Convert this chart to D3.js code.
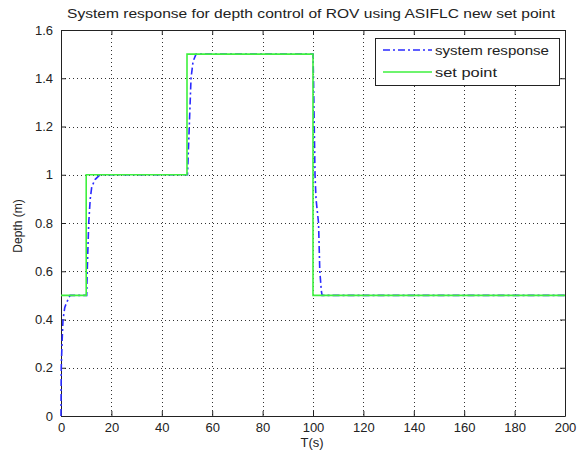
<!DOCTYPE html>
<html>
<head>
  <meta charset="utf-8">
  <script src="https://d3js.org/d3.v7.min.js"></script>
  <style>
    body { margin: 0; background: #fff; }
    text { font-family: Arial, "Liberation Sans", sans-serif; fill: #222; }
  </style>
</head>
<body>
  <svg width="577" height="461"></svg>
  <script>
    // set point (step reference)
    var setT = [0, 10, 10, 50, 50, 100, 100, 200];
    var setY = [0.5, 0.5, 1, 1, 1.5, 1.5, 0.5, 0.5];

    // system response
    var respT = [0, 0.1, 0.4, 0.8, 1.5, 2.2, 3.6, 10, 10.2, 10.4, 11, 11.6, 12.2, 13.5, 15.5,
                 50, 50.2, 50.9, 51.6, 52.4, 53.6, 100, 100.2, 100.5, 100.8, 101.2, 102.2, 102.7, 103.3, 103.6, 200];
    var respY = [0, 0.2, 0.3, 0.4, 0.45, 0.47, 0.5, 0.5, 0.5, 0.6, 0.8, 0.9, 0.95, 0.98, 1.0,
                 1.0, 1.0, 1.2, 1.4, 1.47, 1.5, 1.5, 1.4, 1.2, 1.0, 0.9, 0.8, 0.6, 0.52, 0.5, 0.5];

    var xTicks = [0, 20, 40, 60, 80, 100, 120, 140, 160, 180, 200];
    var yTicks = [0, 0.2, 0.4, 0.6, 0.8, 1, 1.2, 1.4, 1.6];

    (function () {
      var pl = 61, pr = 565, pt = 30, pb = 416;
      var svg = d3.select("svg");

      var x = d3.scaleLinear().domain([0, 200]).range([pl, pr]);
      var y = d3.scaleLinear().domain([0, 1.6]).range([pb, pt]);

      // grid
      var grid = svg.append("g").attr("stroke", "#333").attr("stroke-width", 1)
        .attr("stroke-dasharray", "1,3");
      grid.selectAll(".gx").data(xTicks.slice(1, -1)).enter().append("line")
        .attr("x1", d => Math.round(x(d)) + 0.5).attr("x2", d => Math.round(x(d)) + 0.5)
        .attr("y1", pt).attr("y2", pb);
      grid.selectAll(".gy").data(yTicks.slice(1, -1)).enter().append("line")
        .attr("y1", d => Math.round(y(d)) + 0.5).attr("y2", d => Math.round(y(d)) + 0.5)
        .attr("x1", pl).attr("x2", pr);

      // axes, ticks inside, closed box
      svg.append("g").attr("transform", "translate(0," + pb + ")")
        .call(d3.axisBottom(x).tickValues(xTicks).tickSizeInner(-5).tickSizeOuter(0).tickPadding(7));
      svg.append("g").attr("transform", "translate(0," + pt + ")")
        .call(d3.axisTop(x).tickValues(xTicks).tickSizeInner(-5).tickSizeOuter(0).tickFormat(""));
      svg.append("g").attr("transform", "translate(" + pl + ",0)")
        .call(d3.axisLeft(y).tickValues(yTicks).tickSizeInner(-5).tickSizeOuter(0).tickPadding(8)
          .tickFormat(d3.format("~g")));
      svg.append("g").attr("transform", "translate(" + pr + ",0)")
        .call(d3.axisRight(y).tickValues(yTicks).tickSizeInner(-5).tickSizeOuter(0).tickFormat(""));
      svg.selectAll(".domain").attr("stroke", "#222");
      svg.selectAll(".tick line").attr("stroke", "#222");
      svg.selectAll(".tick text").attr("fill", "#222").attr("font-size", 13)
        .attr("font-family", "Arial, 'Liberation Sans', sans-serif");

      var line = d3.line().x(d => x(d[0])).y(d => y(d[1]));

      // response first, set point drawn over it
      svg.append("path")
        .datum(respT.map((t, i) => [t, respY[i]]))
        .attr("d", line).attr("fill", "none")
        .attr("stroke", "#2a2aff").attr("stroke-width", 1.6)
        .attr("stroke-dasharray", "7,3,2,3");

      svg.append("path")
        .datum(setT.map((t, i) => [t, setY[i]]))
        .attr("d", line).attr("fill", "none")
        .attr("stroke", "#3ef03e").attr("stroke-width", 1.6);

      // legend
      var lg = svg.append("g");
      lg.append("rect").attr("x", 375.5).attr("y", 38.5).attr("width", 184).attr("height", 47)
        .attr("fill", "#fff").attr("stroke", "#222");
      lg.append("line").attr("x1", 383).attr("x2", 432).attr("y1", 50).attr("y2", 50)
        .attr("stroke", "#2a2aff").attr("stroke-width", 1.6).attr("stroke-dasharray", "7,3,2,3");
      lg.append("line").attr("x1", 383).attr("x2", 432).attr("y1", 72).attr("y2", 72)
        .attr("stroke", "#3ef03e").attr("stroke-width", 1.6);
      lg.append("text").attr("x", 435).attr("y", 55).attr("font-size", 13)
        .attr("textLength", 114).attr("lengthAdjust", "spacingAndGlyphs").text("system response");
      lg.append("text").attr("x", 435).attr("y", 77).attr("font-size", 13)
        .attr("textLength", 62).attr("lengthAdjust", "spacingAndGlyphs").text("set point");

      // titles
      svg.append("text").attr("x", 67).attr("y", 18).attr("font-size", 13)
        .attr("textLength", 488).attr("lengthAdjust", "spacingAndGlyphs")
        .text("System response for depth control of ROV using ASIFLC new set point");
      svg.append("text").attr("x", 312).attr("y", 447).attr("text-anchor", "middle")
        .attr("font-size", 13).text("T(s)");
      svg.append("text").attr("transform", "translate(22,226) rotate(-90)")
        .attr("text-anchor", "middle").attr("font-size", 12).text("Depth (m)");
    })();
  </script>
</body>
</html>
